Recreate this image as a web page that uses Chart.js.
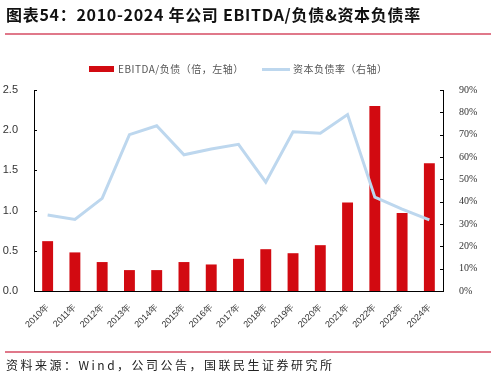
<!DOCTYPE html>
<html>
<head>
<meta charset="utf-8">
<script src="https://cdn.jsdelivr.net/npm/chart.js@4"></script>
<style>
  body { margin: 0; background: #fff; font-family: "Noto Sans CJK SC", sans-serif; }
  #wrap { position: relative; width: 495px; height: 376px; overflow: hidden; }
  canvas { position: absolute; left: 0; top: 0; }
  .title { position: absolute; left: 6px; top: 2px; font-size: 16px; font-weight: bold; color: #111; white-space: nowrap; letter-spacing: 0.7px; }
  .rule { position: absolute; left: 5px; width: 486px; height: 2px; background: #E0788A; }
  .legend { position: absolute; top: 61px; font-size: 10px; color: #555; white-space: nowrap; letter-spacing: 0.5px; }
  .swatch { position: absolute; }
  .foot { position: absolute; left: 6px; top: 356px; font-size: 12px; color: #222; white-space: nowrap; letter-spacing: 2.5px; }
</style>
</head>
<body>
<div id="wrap">
  <canvas id="chart" width="495" height="376"></canvas>
  <div class="title">图表54：2010-2024 年公司 EBITDA/负债&amp;资本负债率</div>
  <div class="rule" style="top:33px"></div>
  <div class="swatch" style="left:89px;top:66px;width:25px;height:6px;background:#D20A11"></div>
  <div class="legend" style="left:118px">EBITDA/负债（倍，左轴）</div>
  <div class="swatch" style="left:262px;top:68px;width:28px;height:3px;background:#BDD7EE"></div>
  <div class="legend" style="left:293px">资本负债率（右轴）</div>
  <div class="rule" style="top:351px"></div>
  <div class="foot">资料来源：Wind，公司公告，国联民生证券研究所</div>
</div>
<script>
const years = ['2010年', '2011年', '2012年', '2013年', '2014年', '2015年', '2016年', '2017年',
  '2018年', '2019年', '2020年', '2021年', '2022年', '2023年', '2024年'];
const ebitdaToDebt = [0.62, 0.48, 0.36, 0.26, 0.26, 0.36, 0.33, 0.40, 0.52, 0.47, 0.57, 1.10, 2.30, 0.97, 1.59];
const debtToCapital = [34, 32, 41.5, 70, 74, 61, 63.6, 65.7, 48.7, 71.3, 70.6, 79, 42, 36.7, 31.8];

// ticks pointing into the plot, like the original
const innerTicks = {
  id: 'innerTicks',
  afterDraw(chart) {
    const ctx = chart.ctx;
    ctx.save();
    ctx.strokeStyle = '#000';
    ctx.lineWidth = 1;
    ['y', 'y1'].forEach(id => {
      const s = chart.scales[id];
      const x = id === 'y' ? s.right : s.left;
      const dir = id === 'y' ? 1 : -1;
      s.ticks.forEach((t, i) => {
        const y = Math.round(s.getPixelForTick(i)) + 0.5;
        ctx.beginPath();
        ctx.moveTo(x, y);
        ctx.lineTo(x + dir * 3, y);
        ctx.stroke();
      });
    });
    ctx.restore();
  }
};

new Chart(document.getElementById('chart').getContext('2d'), {
  data: {
    labels: years,
    datasets: [
      {
        type: 'line',
        label: '资本负债率（右轴）',
        data: debtToCapital,
        yAxisID: 'y1',
        borderColor: '#BDD7EE',
        borderWidth: 3,
        pointRadius: 0,
        tension: 0,
        order: 0
      },
      {
        type: 'bar',
        label: 'EBITDA/负债（倍，左轴）',
        data: ebitdaToDebt,
        yAxisID: 'y',
        backgroundColor: '#D20A11',
        barPercentage: 0.8,
        categoryPercentage: 0.5,
        order: 1
      }
    ]
  },
  options: {
    responsive: false,
    animation: false,
    layout: { padding: { top: 90, left: 0, right: 0, bottom: 0 } },
    plugins: {
      legend: { display: false },
      tooltip: { enabled: false }
    },
    scales: {
      x: {
        grid: { display: false },
        border: { color: '#000', width: 1 },
        ticks: {
          color: '#333',
          font: { size: 9, family: 'Liberation Sans' },
          minRotation: 45,
          maxRotation: 45,
          padding: 3
        },
        afterFit(s) { s.height = 85; }
      },
      y: {
        position: 'left',
        min: 0,
        max: 2.5,
        grid: { display: false },
        border: { color: '#000', width: 1 },
        ticks: {
          stepSize: 0.5,
          color: '#333',
          font: { size: 11, family: 'Liberation Sans' },
          padding: 8,
          callback: v => v.toFixed(1)
        },
        afterFit(s) { s.width = 34; }
      },
      y1: {
        position: 'right',
        min: 0,
        max: 90,
        grid: { display: false },
        border: { color: '#000', width: 1 },
        ticks: {
          stepSize: 10,
          color: '#333',
          font: { size: 10, family: 'Liberation Sans Narrow' },
          padding: 8,
          callback: v => v + '%'
        },
        afterFit(s) { s.width = 52; }
      }
    }
  },
  plugins: [innerTicks]
});
</script>
</body>
</html>
